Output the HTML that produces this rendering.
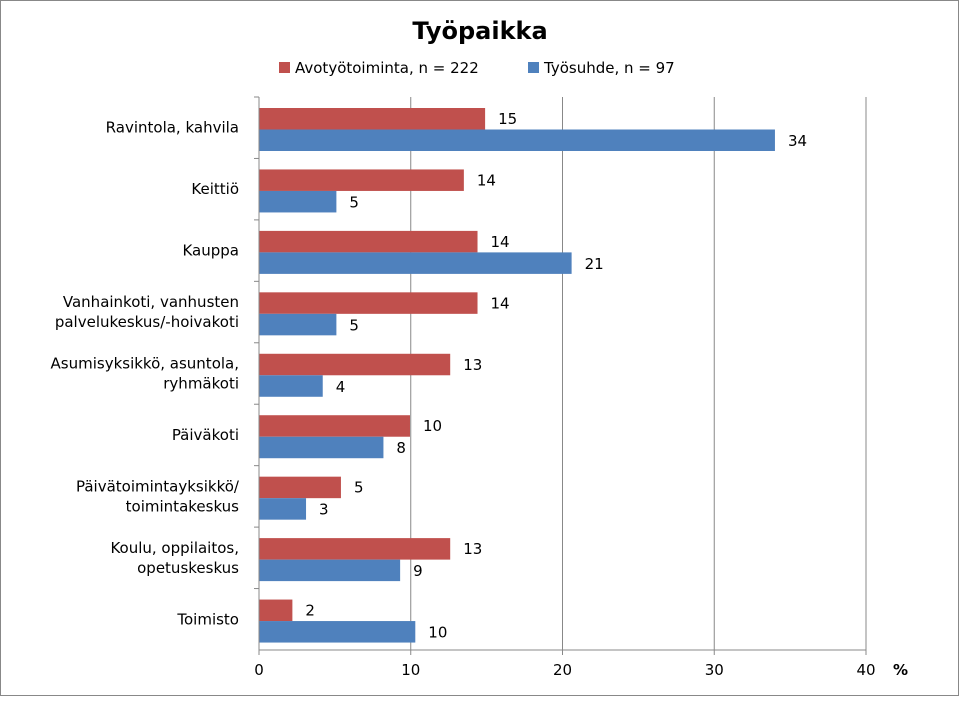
<!DOCTYPE html>
<html><head><meta charset="utf-8"><style>
body{margin:0;background:#fff}
svg text{font-family:"DejaVu Sans","Liberation Sans",sans-serif;fill:#000}
</style></head><body>
<svg width="960" height="697" viewBox="0 0 960 697" xmlns="http://www.w3.org/2000/svg">
<rect x="0.5" y="0.5" width="958" height="695" fill="#fff" stroke="#888"/>
<text x="480" y="39" text-anchor="middle" font-size="24" font-weight="bold">Työpaikka</text>
<g>
<rect x="279" y="62" width="11" height="11" fill="#c0504d"/>
<text x="295" y="73" font-size="15">Avotyötoiminta, n = 222</text>
<rect x="528" y="62" width="11" height="11" fill="#4f81bd"/>
<text x="544" y="73" font-size="15">Työsuhde, n = 97</text>
</g>
<g id="grid"></g><g id="bars"></g><g id="axes"></g>
</svg>
<script>
const categories=[["Ravintola, kahvila"],["Keittiö"],["Kauppa"],["Vanhainkoti, vanhusten","palvelukeskus/-hoivakoti"],["Asumisyksikkö, asuntola,","ryhmäkoti"],["Päiväkoti"],["Päivätoimintayksikkö/","toimintakeskus"],["Koulu, oppilaitos,","opetuskeskus"],["Toimisto"]];
const avotyo=[14.9,13.5,14.4,14.4,12.6,9.95,5.4,12.6,2.2];
const tyosuhde=[34.0,5.1,20.6,5.1,4.2,8.2,3.1,9.3,10.3];
const xTicks=[0,10,20,30,40];
const NS="http://www.w3.org/2000/svg";
const X0=259,X1=866,Y0=97,Y1=650,XMAX=40;
const band=(Y1-Y0)/categories.length;
const x=v=>X0+(X1-X0)*v/XMAX;
function mk(t,a,p,txt){const e=document.createElementNS(NS,t);for(const k in a)e.setAttribute(k,a[k]);if(txt!==undefined)e.textContent=txt;p.appendChild(e);return e;}
const g=document.getElementById('grid'),b=document.getElementById('bars'),ax=document.getElementById('axes');
xTicks.forEach(t=>{
 if(t>0){const l=mk('line',{x1:x(t),x2:x(t),y1:Y0,y2:Y1,stroke:'#888','stroke-width':1},g);
 
 }
 const tl=mk('text',{x:x(t),y:675,'text-anchor':'middle','font-size':15},ax,String(t));
 
 
 const tk=mk('line',{x1:x(t),x2:x(t),y1:Y1,y2:Y1+5,stroke:'#888'},ax);
 
 
});
const pct=mk('text',{x:893,y:675,'font-size':15,'font-weight':'bold'},ax,'%');


categories.forEach((c,i)=>{
 const top=Y0+i*band;
 const r=mk('rect',{x:X0,y:top+11,width:x(avotyo[i])-X0,height:21.5,fill:'#c0504d'},b);
 
 
 const bl=mk('rect',{x:X0,y:top+32.5,width:x(tyosuhde[i])-X0,height:21.5,fill:'#4f81bd'},b);
 
 
 const l1=mk('text',{x:x(avotyo[i])+13,y:top+27,'font-size':15},b,String(Math.round(avotyo[i])));
 
 
 const l2=mk('text',{x:x(tyosuhde[i])+13,y:top+49,'font-size':15},b,String(Math.round(tyosuhde[i])));
 
 
 const mid=top+band/2;
 c.forEach((line,j)=>{
  const yy=mid+5+(j-(c.length-1)/2)*20;
  const ct=mk('text',{x:239,y:yy,'text-anchor':'end','font-size':15},ax,line);
  
  
 });
 const tk=mk('line',{x1:X0-5,x2:X0,y1:top,y2:top,stroke:'#888'},ax);
 
 
});
const yl=mk('line',{x1:X0,x2:X0,y1:Y0,y2:Y1,stroke:'#888'},ax);


const xl=mk('line',{x1:X0,x2:X1,y1:Y1,y2:Y1,stroke:'#888'},ax);


</script>
</body></html>
